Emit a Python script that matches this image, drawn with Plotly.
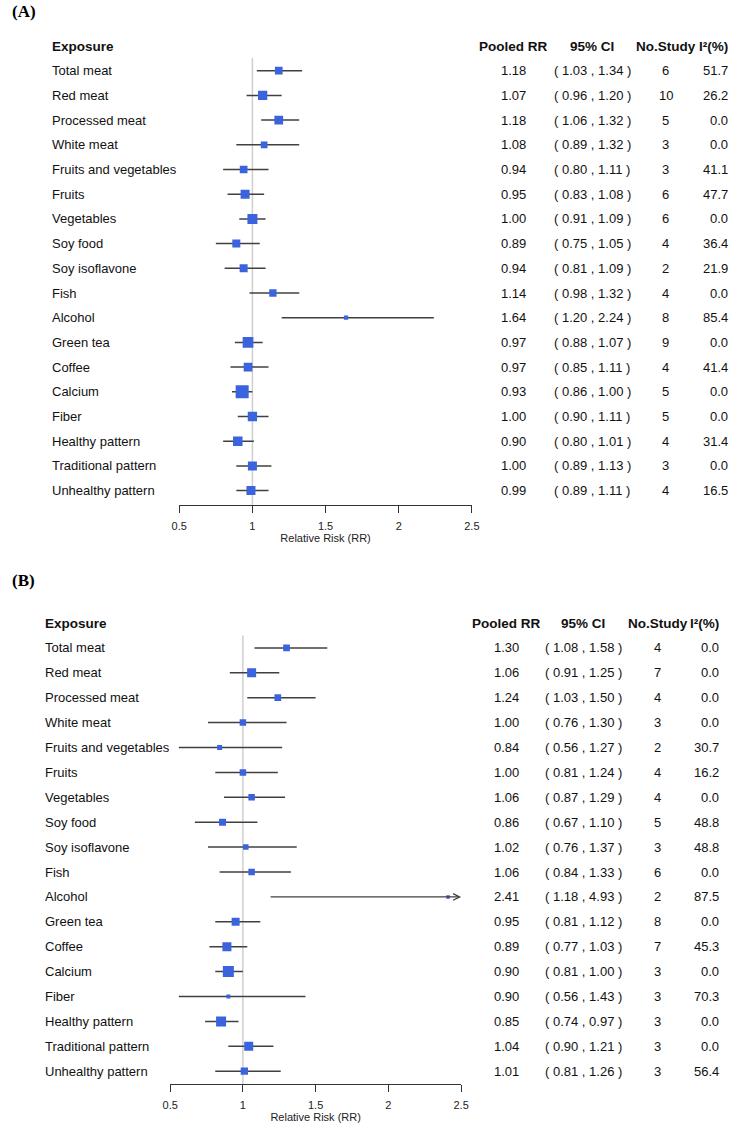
import plotly.graph_objects as go

W, H = 749, 1128

exposures = ["Total meat", "Red meat", "Processed meat", "White meat",
             "Fruits and vegetables", "Fruits", "Vegetables", "Soy food",
             "Soy isoflavone", "Fish", "Alcohol", "Green tea", "Coffee",
             "Calcium", "Fiber", "Healthy pattern", "Traditional pattern",
             "Unhealthy pattern"]

# Panel A
rr_a = [1.18, 1.07, 1.18, 1.08, 0.94, 0.95, 1.00, 0.89, 0.94, 1.14, 1.64, 0.97, 0.97, 0.93, 1.00, 0.90, 1.00, 0.99]
lo_a = [1.03, 0.96, 1.06, 0.89, 0.80, 0.83, 0.91, 0.75, 0.81, 0.98, 1.20, 0.88, 0.85, 0.86, 0.90, 0.80, 0.89, 0.89]
hi_a = [1.34, 1.20, 1.32, 1.32, 1.11, 1.08, 1.09, 1.05, 1.09, 1.32, 2.24, 1.07, 1.11, 1.00, 1.11, 1.01, 1.13, 1.11]
n_a = [6, 10, 5, 3, 3, 6, 6, 4, 2, 4, 8, 9, 4, 5, 5, 4, 3, 4]
i2_a = [51.7, 26.2, 0.0, 0.0, 41.1, 47.7, 0.0, 36.4, 21.9, 0.0, 85.4, 0.0, 41.4, 0.0, 0.0, 31.4, 0.0, 16.5]
weight_a = [7.7, 9.3, 8.7, 6.7, 7.7, 9.0, 10.0, 8.0, 8.0, 7.3, 4.3, 10.7, 8.7, 13.0, 9.3, 9.5, 9.0, 9.0]

# Panel B
rr_b = [1.30, 1.06, 1.24, 1.00, 0.84, 1.00, 1.06, 0.86, 1.02, 1.06, 2.41, 0.95, 0.89, 0.90, 0.90, 0.85, 1.04, 1.01]
lo_b = [1.08, 0.91, 1.03, 0.76, 0.56, 0.81, 0.87, 0.67, 0.76, 0.84, 1.18, 0.81, 0.77, 0.81, 0.56, 0.74, 0.90, 0.81]
hi_b = [1.58, 1.25, 1.50, 1.30, 1.27, 1.24, 1.29, 1.10, 1.37, 1.33, 4.93, 1.12, 1.03, 1.00, 1.43, 0.97, 1.21, 1.26]
n_b = [4, 7, 4, 3, 2, 4, 4, 5, 3, 6, 2, 8, 7, 3, 3, 3, 3, 3]
i2_b = [0.0, 0.0, 0.0, 0.0, 30.7, 16.2, 0.0, 48.8, 48.8, 0.0, 87.5, 0.0, 45.3, 0.0, 70.3, 0.0, 0.0, 56.4]
weight_b = [6.7, 9.0, 6.7, 6.5, 5.0, 6.5, 6.5, 7.0, 5.5, 6.5, 3.5, 8.0, 9.0, 11.0, 4.0, 10.0, 9.0, 7.3]

x_ticks = [0.5, 1, 1.5, 2, 2.5]
x_min, x_max = 0.5, 2.5
headers = ["Exposure", "Pooled RR", "95% CI", "No.Study", "I²(%)"]

FONT = "Liberation Sans, Arial, sans-serif"
BLUE = "#3B63DE"
LINE = "#404040"
TXT = "#111111"

def px2py(p):
    return 1 - p / H

fig = go.Figure()

panels = [
    dict(rr=rr_a, lo=lo_a, hi=hi_a, n=n_a, i2=i2_a, w=weight_a,
         xa="x", ya="y", label="(A)", label_y=12,
         header_px=46, step=24.7, axis_px=505,
         x0px=175, x1px=474, lab_px=43,
         cols=[517, 597, 672, 738], ref_top=0.49),
    dict(rr=rr_b, lo=lo_b, hi=hi_b, n=n_b, i2=i2_b, w=weight_b,
         xa="x2", ya="y2", label="(B)", label_y=580,
         header_px=623, step=24.9, axis_px=1084,
         x0px=165.7, x1px=463, lab_px=36,
         cols=[509, 588, 664, 729], ref_top=0.5),
]

annotations = []
shapes = []
layout_axes = {}

for k, p in enumerate(panels):
    nrow = len(exposures)
    ys = list(range(1, nrow + 1))
    bottom_idx = (p["axis_px"] - p["header_px"]) / p["step"]
    top_px = p["header_px"] - p["step"]
    # CI segments
    sx, sy = [], []
    for i in range(nrow):
        if p["hi"][i] > x_max:
            continue  # drawn as arrow below
        sx += [max(p["lo"][i], x_min), p["hi"][i], None]
        sy += [ys[i], ys[i], None]
    fig.add_trace(go.Scatter(x=sx, y=sy, mode="lines", xaxis=p["xa"], yaxis=p["ya"],
                             line=dict(color=LINE, width=1.5), hoverinfo="skip",
                             showlegend=False))
    # arrows for CIs beyond the axis
    for i in range(nrow):
        if p["hi"][i] > x_max:
            annotations.append(dict(x=x_max, y=ys[i], ax=p["lo"][i], ay=ys[i],
                                    xref=p["xa"], yref=p["ya"], axref=p["xa"], ayref=p["ya"],
                                    showarrow=True, arrowhead=5, arrowsize=1, arrowwidth=1.3,
                                    arrowcolor=LINE, text=""))
    fig.add_trace(go.Scatter(x=p["rr"], y=ys, mode="markers", xaxis=p["xa"], yaxis=p["ya"],
                             marker=dict(symbol="square", color=BLUE, size=p["w"],
                                         opacity=1, line=dict(width=0)),
                             showlegend=False))
    # reference line
    shapes.append(dict(type="line", xref=p["xa"], yref=p["ya"], x0=1, x1=1,
                       y0=p["ref_top"], y1=bottom_idx, line=dict(color="#cfcfcf", width=1.5),
                       layer="below"))
    # headers
    hx = [p["lab_px"]] + p["cols"]
    anchors = ["left", "center", "center", "center", "right"]
    for j, h in enumerate(headers):
        annotations.append(dict(x=hx[j] / W, y=0, xref="paper", yref=p["ya"], text="<b>%s</b>" % h,
                                showarrow=False, xanchor=anchors[j], yanchor="middle",
                                font=dict(family=FONT, size=13.5, color=TXT)))
    # rows
    for i in range(nrow):
        vals = [exposures[i], "%.2f" % p["rr"][i],
                "( %.2f , %.2f )" % (p["lo"][i], p["hi"][i]),
                str(p["n"][i]), "%.1f" % p["i2"][i]]
        for j, v in enumerate(vals):
            annotations.append(dict(x=hx[j] / W, y=ys[i], xref="paper", yref=p["ya"], text=v,
                                    showarrow=False, xanchor=anchors[j], yanchor="middle",
                                    font=dict(family=FONT, size=13, color=TXT)))
    # panel label
    annotations.append(dict(x=2 / W, y=px2py(p["label_y"]), xref="paper", yref="paper",
                            text="<b>%s</b>" % p["label"], showarrow=False, xanchor="left",
                            yanchor="middle",
                            font=dict(family="Liberation Serif, Times New Roman, serif", size=17,
                                      color="#000")))
    xname = "xaxis" if k == 0 else "xaxis2"
    yname = "yaxis" if k == 0 else "yaxis2"
    layout_axes[xname] = dict(domain=[p["x0px"] / W, p["x1px"] / W], range=[x_min, x_max],
                              anchor=p["ya"], tickvals=x_ticks,
                              ticktext=["%g" % t for t in x_ticks],
                              showline=True, linecolor="#333333", linewidth=1.2,
                              ticks="outside", ticklen=7, tickwidth=1.2, tickcolor="#333333",
                              ticklabelstandoff=4,
                              showgrid=False, zeroline=False,
                              tickfont=dict(family=FONT, size=11, color="#222"),
                              title=dict(text="Relative Risk (RR)", standoff=1,
                                         font=dict(family=FONT, size=11, color="#222")))
    layout_axes[yname] = dict(domain=[px2py(p["axis_px"]), px2py(top_px)],
                              range=[bottom_idx, -1], anchor=p["xa"],
                              showgrid=False, zeroline=False, showline=False,
                              showticklabels=False, ticks="")

fig.update_layout(width=W, height=H, margin=dict(l=0, r=0, t=0, b=0),
                  plot_bgcolor="white", paper_bgcolor="white",
                  annotations=annotations, shapes=shapes, **layout_axes)

fig.write_html("out.html")
